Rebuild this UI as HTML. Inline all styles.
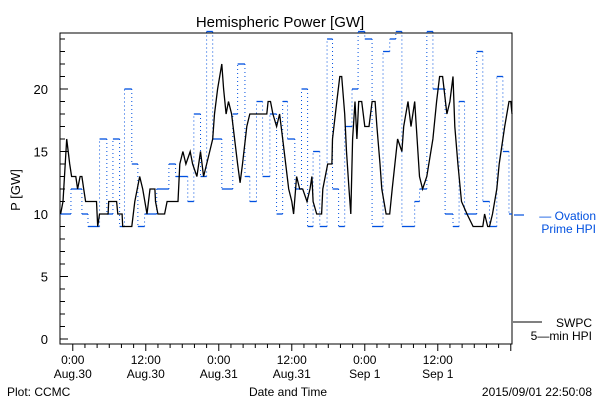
<!DOCTYPE html>
<html><head><meta charset="utf-8"><style>
body{margin:0;background:#fff;}
svg{display:block;font-family:"Liberation Sans",sans-serif;}
</style></head><body>
<svg id="chart" width="600" height="400">
<text x="280" y="27" font-size="15" text-anchor="middle">Hemispheric Power [GW]</text>
<text transform="translate(20,190) rotate(-90)" font-size="13" text-anchor="middle">P [GW]</text>
<rect x="60" y="33" width="452" height="311" fill="none" stroke="#000" stroke-width="1"/>
<g id="axes"></g>
<g id="blue"></g>
<g id="black"></g>
<line x1="514" y1="215" x2="524" y2="215" stroke="#0050e0" stroke-width="1.2"/>
<text x="596" y="220" font-size="12" fill="#0050e0" text-anchor="end">— Ovation</text>
<text x="596" y="233" font-size="12" fill="#0050e0" text-anchor="end">Prime HPI</text>
<line x1="513" y1="322" x2="542" y2="322" stroke="#000"/>
<text x="592" y="327" font-size="12" text-anchor="end">SWPC</text>
<text x="592" y="340" font-size="12" text-anchor="end">5—min HPI</text>
<text x="7" y="396" font-size="12">Plot: CCMC</text>
<text x="288" y="396" font-size="12" text-anchor="middle">Date and Time</text>
<text x="592" y="396" font-size="12" text-anchor="end">2015/09/01 22:50:08</text>
</svg>
<script>
const yTicks=[0,5,10,15,20];
const xTickHours=[0,12,24,36,48,60];
const xTickLine1=["0:00","12:00","0:00","12:00","0:00","12:00"];
const xTickLine2=["Aug.30","Aug.30","Aug.31","Aug.31","Sep 1","Sep 1"];
const blueTimes=[-2.1,-0.3,1.5,2.5,4.4,5.6,6.6,7.7,8.5,9.7,10.7,11.8,13.8,15.8,16.9,18.9,19.9,21.0,22.0,23.0,24.5,26.3,27.1,28.3,29.1,30.2,31.2,32.4,33.5,34.5,35.3,36.5,37.6,38.6,39.5,40.6,41.8,42.7,43.7,44.7,45.9,46.9,48.0,49.2,51.0,52.1,53.1,54.1,56.2,57.0,58.2,59.2,61.2,62.5,63.5,64.4,66.4,67.4,68.5,69.7,70.7,71.7];
const blueValues=[10,12,10,9,16,10,16,9,20,14,9,10,12,14,13,11,18,13,25,16,12,18,22,13,11,19,13,18,10,19,16,12,20,9,15,9,24,12,9,17,20,25,24,9,23,24,25,9,11,12,25,20,10,9,19,10,23,11,9,21,15,10];
const blackTimes=[-2.0,-1.6,-1.0,-0.5,-0.2,0.5,0.8,1.2,1.5,1.8,2.1,2.8,3.9,4.1,4.4,5.8,5.9,7.2,7.4,8.1,8.2,9.7,10.2,11.0,11.5,12.2,12.7,13.5,13.6,14.0,15.1,15.5,17.3,17.6,18.1,18.6,19.3,19.7,20.4,21.0,21.5,22.5,23.0,23.3,23.8,24.5,24.8,25.2,25.6,26.1,26.6,27.1,27.5,27.9,28.6,29.1,31.9,32.1,32.5,32.9,33.5,34.0,34.5,35.0,35.5,36.0,36.3,36.8,37.3,37.8,38.5,39.0,39.3,39.5,40.1,40.9,41.1,41.9,42.6,42.7,43.4,43.9,44.2,44.7,45.0,45.4,45.7,46.0,46.4,46.7,47.0,47.5,48.0,48.7,49.2,49.7,50.0,50.5,50.8,51.5,52.1,52.5,53.4,54.1,54.4,55.1,55.6,56.2,56.6,57.0,57.5,58.2,59.2,59.8,60.3,60.8,61.5,62.0,62.5,62.8,63.3,63.9,64.8,65.8,67.4,67.7,68.2,68.5,69.0,69.7,70.1,71.0,71.7,72.0,72.2];
const blackValues=[10,11,16,14,13,13,12,13,13,12,11,11,11,9,10,10,11,11,10,10,9,9,11,13,12,10,12,12,11,10,10,11,11,14,15,14,15,14,13,15,13,15,16,18,20,22,20,18,19,18,16,14,12.5,14,17,18,18,19,19,18,17,18,16,14,12,11,10,13,12,12,11,12,13,11,10,10,12,14,14,16,19,21,21,18,15,12,10,16,19,16,19,19,17,17,19,19,17,14,12,10,10,12,16,15,17,19,17,19,16,13,12,13,16,19,21,21,18,19,21,17,14,11,10,9,9,10,9,9,10,12,14,17,19,19,18];
const NS="http://www.w3.org/2000/svg";
const X0=60,X1=512,TMIN=-2.1,TMAX=72.2;
function xs(t){return X0+(t-TMIN)*(X1-X0)/(TMAX-TMIN);}
function ys(v){return 339-12.5*Math.min(v,24.6);}
function mk(tag,attrs,parent){const e=document.createElementNS(NS,tag);for(const k in attrs)e.setAttribute(k,attrs[k]);parent.appendChild(e);return e;}
const axes=document.getElementById('axes');
for(let v=0;v<=24;v++){
  const tk=mk('line',{x1:X0,x2:X0+(v%5===0?8:5),y1:ys(v),y2:ys(v),stroke:'#000'},axes);
  
  
}
yTicks.forEach(v=>{
  const t=mk('text',{x:48,y:ys(v)+5,'font-size':13,'text-anchor':'end'},axes);t.textContent=v;
  
  
});
for(let h=0;h<=72;h+=2){
  const tk=mk('line',{x1:xs(h),x2:xs(h),y1:344,y2:344+(h%12===0?7:4),stroke:'#000'},axes);
  
  
}
xTickHours.forEach((h,i)=>{
  const a=mk('text',{x:xs(h),y:364,'font-size':12,'text-anchor':'middle'},axes);a.textContent=xTickLine1[i];
  
  
  const b=mk('text',{x:xs(h),y:378,'font-size':12,'text-anchor':'middle'},axes);b.textContent=xTickLine2[i];
  
  
});
const blue=document.getElementById('blue');
blueTimes.forEach((t,i)=>{
  const tEnd=i+1<blueTimes.length?blueTimes[i+1]:TMAX;
  const h=mk('line',{x1:xs(t),x2:xs(tEnd),y1:ys(blueValues[i]),y2:ys(blueValues[i]),stroke:'#0050e0','stroke-width':1.3},blue);
  
  
  if(i+1<blueTimes.length){
    const v=mk('line',{x1:xs(tEnd),x2:xs(tEnd),y1:ys(blueValues[i]),y2:ys(blueValues[i+1]),stroke:'#0050e0','stroke-width':1,'stroke-dasharray':'1,3'},blue);
    
    
  }
});
let d='';
blackTimes.forEach((t,i)=>{d+=(i?'L':'M')+xs(t).toFixed(1)+','+ys(blackValues[i]).toFixed(1);});
const p=mk('path',{d:d,fill:'none',stroke:'#000','stroke-width':1.3},document.getElementById('black'));


</script>
</body></html>
